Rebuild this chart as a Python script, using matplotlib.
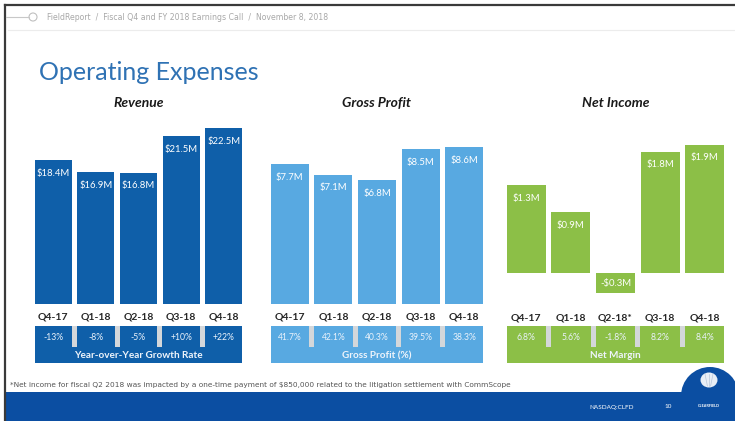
import matplotlib
matplotlib.use("Agg")
import matplotlib.pyplot as plt
from matplotlib.patches import Rectangle, Circle, Ellipse
from matplotlib.transforms import blended_transform_factory

# ============================================================
# Data
# ============================================================

quarters = ["Q4-17", "Q1-18", "Q2-18", "Q3-18", "Q4-18"]
ni_quarters = ["Q4-17", "Q1-18", "Q2-18*", "Q3-18", "Q4-18"]

revenue = [18.4, 16.9, 16.8, 21.5, 22.5]
gross_profit = [7.7, 7.1, 6.8, 8.5, 8.6]
net_income = [1.3, 0.9, -0.3, 1.8, 1.9]

yoy_growth = ["-13%", "-8%", "-5%", "+10%", "+22%"]
gp_margin = ["41.7%", "42.1%", "40.3%", "39.5%", "38.3%"]
net_margin = ["6.8%", "5.6%", "-1.8%", "8.2%", "8.4%"]

# ============================================================
# Figure (pixel helpers, 735 x 421 canvas)
# ============================================================

W, H = 735, 421
FONT = ["Lato", "DejaVu Sans"]
plt.rcParams["font.family"] = FONT

fig = plt.figure(figsize=(W / 100, H / 100), dpi=100)
fig.patch.set_facecolor("white")


def fx(x):
    return x / W


def fy(y):
    return 1 - y / H


def add_px_axes(left, right, top, bottom):
    return fig.add_axes([fx(left), fy(bottom), (right - left) / W, (bottom - top) / H])


# background canvas axis for decorations
bg = fig.add_axes([0, 0, 1, 1])
bg.set_xlim(0, W)
bg.set_ylim(H, 0)
bg.axis("off")

# outer frame (dark edges top / left)
bg.plot([5, 5], [5, H], color="#3a3a3a", lw=1.6)
bg.plot([5, W], [5, 5], color="#3a3a3a", lw=1.6)

# header breadcrumb
bg.plot([6, 29], [17, 17], color="#c8c8c8", lw=0.8)
bg.add_patch(Circle((33, 17), 4, facecolor="white", edgecolor="#c0c0c0", lw=0.8))
bg.text(47, 17, "FieldReport  /  Fiscal Q4 and FY 2018 Earnings Call  /  November 8, 2018",
        fontsize=5.6, color="#a8a8a8", va="center", ha="left", family="DejaVu Sans")
bg.plot([8, W], [30, 30], color="#ececec", lw=0.8)

# title
bg.text(39, 73, "Operating Expenses", fontsize=18, color="#2f72b4",
        va="center", ha="left")

# footer
bg.text(10, 385, "*Net income for fiscal Q2 2018 was impacted by a one-time payment of "
        "$850,000 related to the litigation settlement with CommScope",
        fontsize=5.3, color="#555555", va="center", ha="left", family="DejaVu Sans")
footer_blue = "#0b4ea2"
bg.add_patch(Rectangle((5, 392), W - 5, 30, facecolor=footer_blue, edgecolor="none"))
bg.add_patch(Circle((710, 396), 29, facecolor=footer_blue, edgecolor="none"))
bg.add_patch(Ellipse((709, 380), 17, 15, facecolor="#e8eef6", edgecolor="none"))
for dx in (-4, 0, 4):
    bg.plot([709 + dx * 0.4, 709 + dx], [386, 374], color="#b8c6da", lw=0.5)
bg.text(709, 406, "CLEARFIELD", fontsize=2.8, color="white", ha="center", va="center",
        fontweight="bold")
bg.text(612, 407, "NASDAQ:CLFD", fontsize=4.6, color="white", ha="center", va="center")
bg.text(668, 407, "10", fontsize=4.6, color="white", ha="center", va="center")

# ============================================================
# Panels
# ============================================================

panels = [
    dict(title="Revenue", values=revenue, labels=quarters, pcts=yoy_growth,
         caption="Year-over-Year Growth Rate", color="#0f5fa9",
         left=32, right=245, zero=304, scale=7.82, qy=317),
    dict(title="Gross Profit", values=gross_profit, labels=quarters, pcts=gp_margin,
         caption="Gross Profit (%)", color="#58a9e1",
         left=268, right=486, zero=304, scale=18.2, qy=317),
    dict(title="Net Income", values=net_income, labels=ni_quarters, pcts=net_margin,
         caption="Net Margin", color="#8cbf47",
         left=504, right=727, zero=273, scale=67.5, qy=318),
]

bar_w = 0.87
top_px, bottom_px = 110, 304

for p in panels:
    ax = add_px_axes(p["left"], p["right"], top_px, bottom_px)
    ax.set_xlim(-0.5, len(p["values"]) - 0.5)
    ax.set_ylim(-(bottom_px - p["zero"]) / p["scale"], (p["zero"] - top_px) / p["scale"])
    ax.axis("off")

    x = range(len(p["values"]))
    ax.bar(x, p["values"], width=bar_w, color=p["color"], edgecolor="none")

    for i, v in enumerate(p["values"]):
        if v >= 0:
            ax.annotate(f"${v:.1f}M", (i, v), xytext=(0, -9.5), textcoords="offset points",
                        ha="center", va="center", color="white", fontsize=6.8)
        else:
            ax.text(i, v / 2, f"-${abs(v):.1f}M", ha="center", va="center",
                    color="white", fontsize=6.8)

    # panel subtitle
    tr = blended_transform_factory(ax.transData, fig.transFigure)
    ax.text((len(p["values"]) - 1) / 2, fy(103), p["title"], transform=tr,
            ha="center", va="center", fontsize=10, fontweight="bold",
            fontstyle="italic", color="#1a1a1a", clip_on=False)

    # quarter labels
    for i, q in enumerate(p["labels"]):
        ax.text(i, fy(p["qy"]), q, transform=tr, ha="center", va="center",
                fontsize=7.5, fontweight="bold", color="#262626", clip_on=False)

    # percentage box
    n = len(p["values"])
    x0, x1 = -bar_w / 2, n - 1 + bar_w / 2
    box = Rectangle((x0, fy(363)), x1 - x0, fy(326) - fy(363), transform=tr,
                    facecolor=p["color"], edgecolor="none", clip_on=False)
    ax.add_artist(box)
    for i in range(n - 1):
        g0, g1 = i + bar_w / 2, i + 1 - bar_w / 2
        sep = Rectangle((g0 + 0.01, fy(347)), (g1 - g0) - 0.02, fy(326) - fy(347),
                        transform=tr, facecolor="#d4d7da", edgecolor="none", clip_on=False)
        ax.add_artist(sep)
    for i, t in enumerate(p["pcts"]):
        ax.text(i, fy(337), t, transform=tr, ha="center", va="center",
                fontsize=6.2, color="#eaf2fb", clip_on=False)
    ax.text((n - 1) / 2, fy(356), p["caption"], transform=tr, ha="center", va="center",
            fontsize=7.2, fontweight="bold", color="#eef4fb", clip_on=False)

fig.savefig("out.png", dpi=100, facecolor="white")
